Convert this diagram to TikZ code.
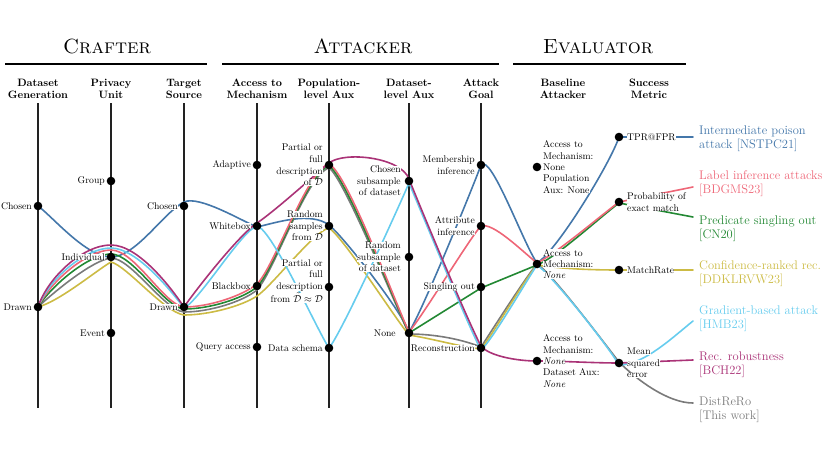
\documentclass[tikz,border=0pt]{standalone}
\usetikzlibrary{calc}
\definecolor{cblue}{HTML}{4477AA}
\definecolor{cpink}{HTML}{EE6677}
\definecolor{cgreen}{HTML}{228833}
\definecolor{cyellow}{HTML}{CCBB44}
\definecolor{ccyan}{HTML}{66CCEE}
\definecolor{cmag}{HTML}{AA3377}
\definecolor{cgray}{HTML}{7A7A7A}
\definecolor{axisc}{HTML}{222222}
\newcommand{\hl}[1]{{\setlength{\fboxsep}{0pt}\colorbox{white}{#1}}}
\begin{document}
\begin{tikzpicture}[x=1pt,y=-1pt,
  axisline/.style={line width=1.1pt, draw=axisc},
  rulebar/.style={line width=1.2pt, draw=black},
  curve/.style={line width=1.6pt, line cap=round},
  lab/.style={anchor=east, inner sep=0pt, align=right, xshift=-6pt, font=\fontsize{9.7}{11.6}\selectfont},
  rlab/.style={anchor=west, inner sep=0pt, align=left, xshift=6pt, font=\fontsize{9.7}{11.4}\selectfont},
  head/.style={align=center, inner sep=0pt, font=\fontsize{10.7}{12}\selectfont\bfseries},
  ttl/.style={anchor=base, inner sep=0pt, font=\fontsize{20.5}{24}\selectfont\scshape},
  leg/.style={anchor=west, inner sep=0pt, align=left, font=\fontsize{12.5}{14}\selectfont},
  dotm/.style={fill=black}
]
\useasboundingbox (0,0) rectangle (830,467);

% positions
\coordinate (a1) at (38,206); \coordinate (a2) at (38,307);
\coordinate (b1) at (111,181); \coordinate (b2) at (111,257); \coordinate (b3) at (111,333);
\coordinate (c1) at (184,206); \coordinate (c2) at (184,307);
\coordinate (d1) at (257,165); \coordinate (d2) at (257,226); \coordinate (d3) at (257,286); \coordinate (d4) at (257,347);
\coordinate (e1) at (329,165); \coordinate (e2) at (329,226); \coordinate (e3) at (329,287); \coordinate (e4) at (329,348);
\coordinate (f1) at (409,181); \coordinate (f2) at (409,257); \coordinate (f3) at (409,333);
\coordinate (g1) at (481,165); \coordinate (g2) at (481,226); \coordinate (g3) at (481,287); \coordinate (g4) at (481,348);
\coordinate (h1) at (537,167); \coordinate (h2) at (537,264); \coordinate (h3) at (537,361);
\coordinate (i1) at (619,137); \coordinate (i2) at (619,202); \coordinate (i3) at (619,270); \coordinate (i4) at (619,363);
\coordinate (l1) at (693,137); \coordinate (l2) at (693,187); \coordinate (l3) at (693,217);
\coordinate (l4) at (693,270); \coordinate (l5) at (693,321); \coordinate (l6) at (693,360); \coordinate (l7) at (693,403);

% titles and rules
\node[ttl] (tcraft) at (107,53) {Crafter};
\node[ttl] (tatt) at (363,53) {Attacker};
\node[ttl] (teval) at (598,53) {Evaluator};
\draw[rulebar] (5,64) -- (207,64);
\draw[rulebar] (222,64) -- (499,64);
\draw[rulebar] (513,64) -- (686,64);

% column headers
\node[head] (hA) at (38,89) {Dataset\\Generation};
\node[head] (hB) at (111,89) {Privacy\\Unit};
\node[head] (hC) at (184,89) {Target\\Source};
\node[head] (hD) at (257,89) {Access to\\Mechanism};
\node[head] (hE) at (329,89) {Population-\\level Aux};
\node[head] (hF) at (409,89) {Dataset-\\level Aux};
\node[head] (hG) at (481,89) {Attack\\Goal};
\node[head] (hH) at (563,89) {Baseline\\Attacker};
\node[head] (hI) at (649,89) {Success\\Metric};

% axes
\foreach \xx in {38,111,184,257,329,409,481}
  \draw[axisline] (\xx,103) -- (\xx,408);

% curves
\draw[curve, cblue] (a1)
  .. controls +(15,11) and +(-25,0) .. (b2)
  .. controls +(25,0) and +(-20,10) .. ($(c1)+(0,-4)$)
  .. controls +(15,-7) and +(-15,-6) .. ($(d2)+(0,1)$)
  .. controls +(18,-4) and +(-19,-14) .. ($(e2)+(0,-1)$)
  .. controls +(12,9) and +(-10,-25) .. ($(f3)+(0,-1)$)
  .. controls +(12,-18) and +(-8,22) .. (g1)
  .. controls +(10,-12) and +(-14,-20) .. ($(h2)+(0,-1)$)
  .. controls +(20,-12) and +(-8,25) .. (i1)
  -- (l1);

\draw[curve, cgray] (a2)
  .. controls +(17,-16) and +(-18,2) .. ($(b2)+(0,1)$)
  .. controls +(20,0) and +(-20,-2) .. ($(c2)+(0,5)$)
  .. controls +(25,0) and +(-15,12) .. ($(d3)+(0,4)$)
  .. controls +(18,-20) and +(-22,6) .. ($(e1)+(0,3)$)
  .. controls +(14,8) and +(-12,-25) .. ($(f3)+(0,1)$)
  .. controls +(25,0) and +(-20,-8) .. ($(g4)+(0,-1)$)
  .. controls +(8,-12) and +(-12,14) .. (h2)
  .. controls +(14,8) and +(-14,-18) .. ($(i4)+(0,-1)$)
  .. controls +(18,18) and +(-25,0) .. (l7);

\draw[curve, cyellow] (a2)
  .. controls +(22,-6) and +(-14,8) .. ($(b2)+(0,5)$)
  .. controls +(16,4) and +(-20,-3) .. ($(c2)+(0,8)$)
  .. controls +(25,0) and +(-15,10) .. ($(d3)+(0,10)$)
  .. controls +(15,-10) and +(-15,3) .. ($(e2)+(0,2)$)
  .. controls +(15,10) and +(-15,-18) .. ($(f3)+(0,2)$)
  .. controls +(25,4) and +(-20,-2) .. ($(g4)+(0,1)$)
  .. controls +(10,-12) and +(-12,14) .. ($(h2)+(0,1)$)
  .. controls +(25,4) and +(-25,0) .. (i3)
  -- (l4);

\draw[curve, cgreen] (a2)
  .. controls +(14,-22) and +(-22,0) .. ($(b2)+(0,-3)$)
  .. controls +(22,0) and +(-20,-2) .. ($(c2)+(0,2)$)
  .. controls +(25,0) and +(-15,12) .. ($(d3)+(0,1)$)
  .. controls +(18,-19) and +(-22,6) .. ($(e1)+(0,1)$)
  .. controls +(16,8) and +(-12,-25) .. (f3)
  -- ($(g3)+(0,1)$) -- ($(h2)+(0,1)$)
  .. controls +(20,-8) and +(-20,15) .. ($(i2)+(0,1)$)
  -- (l3);

\draw[curve, cpink] (a2)
  .. controls +(12,-25) and +(-24,0) .. ($(b2)+(0,-7)$)
  .. controls +(24,0) and +(-20,-2) .. (c2)
  .. controls +(25,0) and +(-15,12) .. ($(d3)+(0,-2)$)
  .. controls +(18,-18) and +(-22,6) .. ($(e1)+(0,-1)$)
  .. controls +(18,8) and +(-12,-25) .. ($(f3)+(0,-1)$)
  .. controls +(15,-18) and +(-10,10) .. (g2)
  .. controls +(12,-4) and +(-15,-12) .. ($(h2)+(0,-1)$)
  .. controls +(20,-10) and +(-20,15) .. (i2)
  -- (l2);

\draw[curve, ccyan] (a2)
  .. controls +(11,-28) and +(-26,0) .. ($(b2)+(0,-9)$)
  .. controls +(26,0) and +(-12,-16) .. ($(c2)+(0,1)$)
  .. controls +(16,-8) and +(-15,4) .. (d2)
  .. controls +(15,3) and +(-12,-18) .. (e4)
  .. controls +(12,-14) and +(-12,28) .. ($(f1)+(0,2)$)
  .. controls +(12,28) and +(-12,-22) .. ($(g4)+(0,2)$)
  .. controls +(10,-8) and +(-10,15) .. ($(h2)+(0,1)$)
  .. controls +(15,10) and +(-10,-18) .. ($(i4)+(0,2)$)
  .. controls +(25,0) and +(-20,16) .. (l5);

\draw[curve, cmag] (a2)
  .. controls +(10,-30) and +(-28,0) .. ($(b2)+(0,-12)$)
  .. controls +(28,0) and +(-12,-18) .. (c2)
  .. controls +(14,-20) and +(-18,12) .. ($(d2)+(0,-3)$)
  .. controls +(18,-12) and +(-12,10) .. ($(e1)+(0,-2)$)
  .. controls +(15,-12) and +(-8,-22) .. ($(f1)+(0,-2)$)
  .. controls +(12,30) and +(-12,-22) .. ($(g4)+(0,-2)$)
  .. controls +(8,10) and +(-20,0) .. (h3)
  .. controls +(25,0) and +(-25,0) .. (i4)
  -- (l6);

% axis labels
\node[lab] (la1) at (a1) {\hl{Chosen}};
\node[lab] (la2) at (a2) {\hl{Drawn}};
\node[lab] (lb1) at (b1) {\hl{Group}};
\node[lab] (lb2) at (b2) {\hl{Individual}};
\node[lab] (lb3) at (b3) {\hl{Event}};
\node[lab] (lc1) at (c1) {\hl{Chosen}};
\node[lab] (lc2) at (c2) {\hl{Drawn}};
\node[lab] (ld1) at (d1) {\hl{Adaptive}};
\node[lab] (ld2) at (d2) {\hl{Whitebox}};
\node[lab] (ld3) at (d3) {\hl{Blackbox}};
\node[lab] (ld4) at (d4) {\hl{Query access}};
\node[lab] (le1) at (e1) {\hl{Partial or}\\\hl{full}\\\hl{description}\\\hl{of $\mathcal{D}$}};
\node[lab] (le2) at (e2) {\hl{Random}\\\hl{samples}\\\hl{from $\mathcal{D}$}};
\node[lab, yshift=6pt] (le3) at (e3) {\hl{Partial or}\\\hl{full}\\\hl{description}\\[1.5pt]\hl{from $\tilde{\mathcal{D}}\approx\mathcal{D}$}};
\node[lab] (le4) at (e4) {\hl{Data schema}};
\node[lab, xshift=-2pt] (lf1) at (f1) {\hl{Chosen}\\\hl{subsample}\\\hl{of dataset}};
\node[lab, xshift=-2pt] (lf2) at (f2) {\hl{Random}\\\hl{subsample}\\\hl{of dataset}};
\node[lab, xshift=-7pt] (lf3) at (f3) {\hl{None}};
\node[lab] (lg1) at (g1) {\hl{Membership}\\\hl{inference}};
\node[lab] (lg2) at (g2) {\hl{Attribute}\\\hl{inference}};
\node[lab] (lg3) at (g3) {\hl{Singling out}};
\node[lab] (lg4) at (g4) {\hl{Reconstruction}};
\node[rlab] (lh1) at (h1) {\hl{Access to}\\\hl{Mechanism:}\\\hl{None}\\\hl{Population}\\\hl{Aux: None}};
\node[rlab] (lh2) at (h2) {\hl{Access to}\\\hl{Mechanism:}\\\hl{\textit{None}}};
\node[rlab] (lh3) at (h3) {\hl{Access to}\\\hl{Mechanism:}\\\hl{\textit{None}}\\\hl{Dataset Aux:}\\\hl{\textit{None}}};
\node[rlab, xshift=2pt] (li1) at (i1) {\hl{TPR@FPR}};
\node[rlab, xshift=2pt] (li2) at (i2) {\hl{Probability of}\\\hl{exact match}};
\node[rlab, xshift=2pt] (li3) at (i3) {\hl{MatchRate}};
\node[rlab, xshift=2pt] (li4) at (i4) {\hl{Mean}\\\hl{squared}\\\hl{error}};

% legend
\node[leg, text=cblue] (g-blue) at (699,139) {Intermediate poison\\attack [NSTPC21]};
\node[leg, text=cpink] (g-pink) at (699,184) {Label inference attacks\\{[BDGMS23]}};
\node[leg, text=cgreen] (g-green) at (699,229) {Predicate singling out\\{[CN20]}};
\node[leg, text=cyellow] (g-yellow) at (699,274) {Confidence-ranked rec.\\{[DDKLRVW23]}};
\node[leg, text=ccyan] (g-cyan) at (699,319) {Gradient-based attack\\{[HMB23]}};
\node[leg, text=cmag] (g-mag) at (699,365) {Rec. robustness\\{[BCH22]}};
\node[leg, text=cgray] (g-gray) at (699,410) {DistReRo\\{[This work]}};

% dots
\foreach \p in {a1,a2,b1,b2,b3,c1,c2,d1,d2,d3,d4,e1,e2,e3,e4,f1,f2,f3,g1,g2,g3,g4,h1,h2,h3,i1,i2,i3,i4}
  \fill[dotm] (\p) circle[radius=4.3pt];
\end{tikzpicture}
\end{document}
